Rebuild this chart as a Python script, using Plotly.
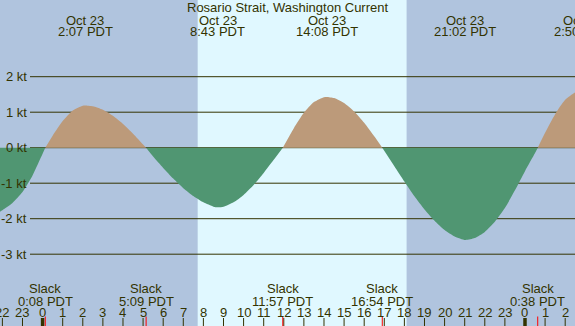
import plotly.graph_objects as go

title_text = "Rosario Strait, Washington Current"

# Hours from Oct 23 00:00 PDT, current speed in knots (flood +, ebb -)
time_h = [-2.5, -2.0, -1.5, -1.0, -0.5, 0.0, 0.133, 0.5, 1.0, 1.5, 2.0, 2.117, 2.5, 3.0,
          3.5, 4.0, 4.5, 5.0, 5.15, 5.5, 6.0, 6.5, 7.0, 7.5, 8.0, 8.5, 8.717, 9.0, 9.5,
          10.0, 10.5, 11.0, 11.5, 11.95, 12.5, 13.0, 13.5, 14.0, 14.133, 14.5, 15.0, 15.5,
          16.0, 16.5, 16.9, 17.5, 18.0, 18.5, 19.0, 19.5, 20.0, 20.5, 21.033, 21.5, 22.0,
          22.5, 23.0, 23.5, 24.0, 24.5, 24.633, 25.0, 25.5, 26.0, 26.5, 26.833, 27.0]
speed_kt = [-1.93, -1.76, -1.56, -1.25, -0.78, -0.17, 0.0, 0.34, 0.75, 1.05, 1.185, 1.19,
            1.166, 1.067, 0.897, 0.668, 0.394, 0.092, 0.0, -0.25, -0.57, -0.87, -1.14,
            -1.36, -1.54, -1.66, -1.68, -1.665, -1.54, -1.33, -1.05, -0.71, -0.34, 0.0,
            0.551, 0.981, 1.284, 1.423, 1.43, 1.399, 1.26, 1.021, 0.702, 0.322, 0.0,
            -0.52, -0.95, -1.37, -1.74, -2.06, -2.32, -2.50, -2.60, -2.546, -2.372,
            -2.085, -1.70, -1.20, -0.66, -0.151, 0.0, 0.422, 0.945, 1.35, 1.56, 1.62, 1.61]

# Max flood / max ebb events (top labels)
event_h = [2.117, 8.717, 14.133, 21.033, 26.833]
event_date = ["Oct 23", "Oct 23", "Oct 23", "Oct 23", "Oct 24"]
event_time = ["2:07 PDT", "8:43 PDT", "14:08 PDT", "21:02 PDT", "2:50 PDT"]

# Slack events (bottom labels)
slack_h = [0.133, 5.15, 11.95, 16.9, 24.633]
slack_time = ["0:08 PDT", "5:09 PDT", "11:57 PDT", "16:54 PDT", "0:38 PDT"]

# Hour axis
hour_pos = list(range(-2, 27))
hour_labels = ["22", "23", "0", "1", "2", "3", "4", "5", "6", "7", "8", "9", "10", "11",
               "12", "13", "14", "15", "16", "17", "18", "19", "20", "21", "22", "23",
               "0", "1", "2"]

# Speed axis
kt_vals = [2, 1, 0, -1, -2, -3]
kt_labels = ["2 kt", "1 kt", "0 kt", "-1 kt", "-2 kt", "-3 kt"]

# Daylight
sunrise_h = 7.716
sunset_h = 18.11

W, H = 575, 326
TXT = "#333300"
FONT = "Liberation Sans, Arial, sans-serif"
NIGHT = "#b0c4de"
DAY = "#e0f8ff"
FLOOD = "#bc9a7a"
EBB = "#509672"

x0 = -2.119
x1 = x0 + W / 20.1
y_top = 147.7 / 35.5
y_bot = -(H - 147.7) / 35.5


def py(p):
    return 1 - p / H


def xp(t):
    # position along the x scale expressed in paper units (may fall outside 0..1)
    return (t - x0) / (x1 - x0)


flood_y = [v if v >= 0 else None for v in speed_kt]
ebb_y = [v if v <= 0 else None for v in speed_kt]

fig = go.Figure()
fig.add_trace(go.Scatter(x=time_h, y=flood_y, mode="lines", fill="tozeroy",
                         fillcolor=FLOOD, line=dict(width=0, shape="spline", smoothing=0.6),
                         connectgaps=False, hoverinfo="skip", showlegend=False))
fig.add_trace(go.Scatter(x=time_h, y=ebb_y, mode="lines", fill="tozeroy",
                         fillcolor=EBB, line=dict(width=0, shape="spline", smoothing=0.6),
                         connectgaps=False, hoverinfo="skip", showlegend=False))

shapes = []
shapes.append(dict(type="rect", xref="x", yref="paper", x0=sunrise_h, x1=sunset_h,
                   y0=0, y1=1, fillcolor=DAY, line=dict(width=0), layer="below"))
for v in kt_vals:
    shapes.append(dict(type="line", xref="paper", yref="y", x0=30 / W, x1=1, y0=v, y1=v,
                       line=dict(color=TXT, width=1), layer="below"))
for h in hour_pos:
    wdt = 3.5 if h % 24 == 0 else 1
    shapes.append(dict(type="line", xref="x", yref="paper", x0=h, x1=h,
                       y0=0, y1=py(318), line=dict(color=TXT, width=wdt), layer="above"))
for s in slack_h:
    shapes.append(dict(type="line", xref="x", yref="paper", x0=s, x1=s,
                       y0=0, y1=py(316.5), line=dict(color="#ff0000", width=1), layer="above"))

ann = []
fnt = dict(family=FONT, size=13, color=TXT)
ann.append(dict(text=title_text, xref="paper", yref="paper", x=0.5, y=py(8),
                xanchor="center", yanchor="middle", showarrow=False, font=fnt))
for h, d, t in zip(event_h, event_date, event_time):
    ann.append(dict(text=d, xref="paper", yref="paper", x=xp(h), y=py(20.2), xanchor="center",
                    yanchor="middle", showarrow=False, font=fnt))
    ann.append(dict(text=t, xref="paper", yref="paper", x=xp(h), y=py(32), xanchor="center",
                    yanchor="middle", showarrow=False, font=fnt))
for h, t in zip(slack_h, slack_time):
    ann.append(dict(text="Slack", xref="x", yref="paper", x=h, y=py(288.5), xanchor="center",
                    yanchor="middle", showarrow=False, font=fnt))
    ann.append(dict(text=t, xref="x", yref="paper", x=h, y=py(301), xanchor="center",
                    yanchor="middle", showarrow=False, font=fnt))
for h, lab in zip(hour_pos, hour_labels):
    ann.append(dict(text=lab, xref="paper", yref="paper", x=xp(h), y=py(312), xanchor="center",
                    yanchor="middle", showarrow=False, font=fnt))
for v, lab in zip(kt_vals, kt_labels):
    ann.append(dict(text=lab, xref="paper", yref="y", x=28.5 / W, y=v, xanchor="right",
                    yanchor="middle", showarrow=False, font=fnt))

fig.update_layout(
    width=W, height=H,
    margin=dict(l=0, r=0, t=0, b=0, pad=0),
    paper_bgcolor=NIGHT, plot_bgcolor=NIGHT,
    xaxis=dict(range=[x0, x1], visible=False, fixedrange=True),
    yaxis=dict(range=[y_bot, y_top], visible=False, fixedrange=True),
    shapes=shapes, annotations=ann, showlegend=False,
)

fig.write_html("out.html", config={"displayModeBar": False},
               post_script="document.body.style.margin='0';document.body.style.overflow='hidden';")
